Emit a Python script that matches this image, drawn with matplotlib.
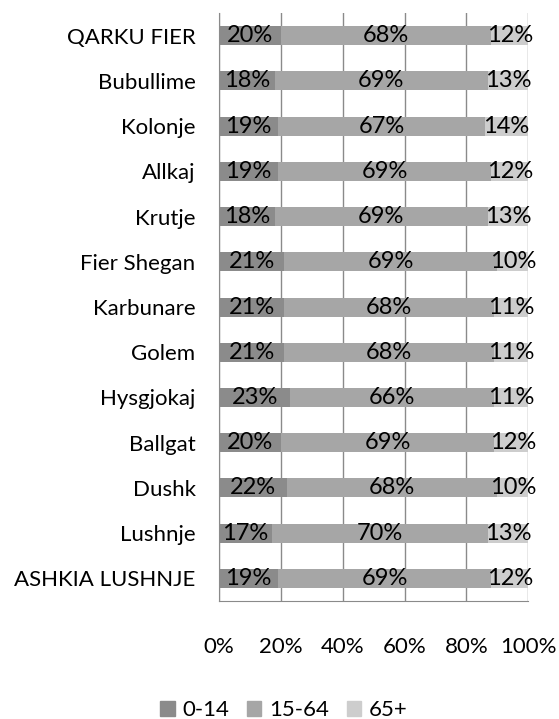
import numpy as np
import matplotlib.pyplot as plt
from matplotlib.patches import Patch

plt.rcParams['font.family'] = ['Lato', 'DejaVu Sans']

# Datos
zonas = ['QARKU FIER', 'Bubullime', 'Kolonje', 'Allkaj', 'Krutje', 'Fier Shegan',
         'Karbunare', 'Golem', 'Hysgjokaj', 'Ballgat', 'Dushk', 'Lushnje', 'ASHKIA LUSHNJE']
grupo_0_14 = [20, 18, 19, 19, 18, 21, 21, 21, 23, 20, 22, 17, 19]
grupo_15_64 = [68, 69, 67, 69, 69, 69, 68, 68, 66, 69, 68, 70, 69]
grupo_65 = [12, 13, 14, 12, 13, 10, 11, 11, 11, 12, 10, 13, 12]
series = ['0-14', '15-64', '65+']
colores = ['#8b8b8b', '#a6a6a6', '#cdcdcd']
ticks = [0, 20, 40, 60, 80, 100]

fs = 16

fig = plt.figure(figsize=(5.59, 7.19), dpi=100)
ax = fig.add_axes([0.392, 0.164, 0.553, 0.818])

y = np.arange(len(zonas))
datos = [grupo_0_14, grupo_15_64, grupo_65]
izq = np.zeros(len(zonas))
for vals, col in zip(datos, colores):
    vals = np.array(vals, dtype=float)
    ax.barh(y, vals, left=izq, height=0.42, color=col, zorder=3)
    for yi, l, v in zip(y, izq, vals):
        ax.text(l + v / 2, yi, f'{int(v)}%', ha='center', va='center',
                fontsize=17, color='black', zorder=4)
    izq += vals

ax.set_xlim(0, 100)
ax.set_ylim(len(zonas) - 0.5, -0.5)
ax.set_xticks(ticks)
ax.set_xticklabels([f'{t}%' for t in ticks], fontsize=fs)
ax.set_yticks(y)
ax.set_yticklabels(zonas, fontsize=fs)
ax.tick_params(axis='both', length=0, colors='black')
ax.tick_params(axis='x', pad=26)
ax.tick_params(axis='y', pad=17)
ax.grid(axis='x', color='#8a8a8a', linewidth=1, zorder=0)
for s in ['top', 'right']:
    ax.spines[s].set_visible(False)
for s in ['left', 'bottom']:
    ax.spines[s].set_color('#8a8a8a')

handles = [Patch(color=c, label=s) for c, s in zip(colores, series)]
fig.legend(handles=handles, loc='center', bbox_to_anchor=(0.508, 0.012), ncol=3,
           frameon=False, fontsize=fs, handlelength=0.65, handleheight=0.65,
           handletextpad=0.35, columnspacing=0.8, borderpad=0)

plt.savefig('out.png', dpi=100)
